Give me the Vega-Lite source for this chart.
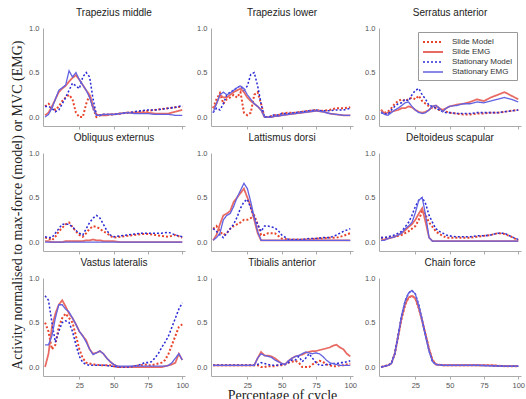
{
"$schema": "https://vega.github.io/schema/vega-lite/v6.json",
"padding": {"left": 10, "top": 8, "right": 5, "bottom": 0},
"title": {"text": "Activity normalised to max-force (model) or MVC (EMG)", "orient": "left", "anchor": "middle", "font": "Liberation Serif", "fontSize": 14, "fontWeight": "normal", "color": "#222", "offset": 4},
"data": {"values": [
{"p":1,"x":0,"sm":0.12,"se":0.02,"tm":0.12,"te":0},
{"p":1,"x":2.5,"sm":0.15,"se":0.05,"tm":0.12,"te":0.03},
{"p":1,"x":5,"sm":0.12,"se":0.12,"tm":0.1,"te":0.1},
{"p":1,"x":7.5,"sm":0.08,"se":0.2,"tm":0.06,"te":0.2},
{"p":1,"x":10,"sm":0.12,"se":0.28,"tm":0.08,"te":0.3},
{"p":1,"x":12.5,"sm":0.18,"se":0.32,"tm":0.15,"te":0.33},
{"p":1,"x":15,"sm":0.22,"se":0.35,"tm":0.22,"te":0.36},
{"p":1,"x":17.5,"sm":0.25,"se":0.4,"tm":0.3,"te":0.52},
{"p":1,"x":20,"sm":0.2,"se":0.44,"tm":0.38,"te":0.45},
{"p":1,"x":22.5,"sm":0.05,"se":0.47,"tm":0.35,"te":0.5},
{"p":1,"x":25,"sm":0,"se":0.42,"tm":0.32,"te":0.42},
{"p":1,"x":27.5,"sm":0,"se":0.36,"tm":0.45,"te":0.36},
{"p":1,"x":30,"sm":0.15,"se":0.3,"tm":0.5,"te":0.3},
{"p":1,"x":32.5,"sm":0.25,"se":0.25,"tm":0.45,"te":0.22},
{"p":1,"x":35,"sm":0.1,"se":0.12,"tm":0.2,"te":0.1},
{"p":1,"x":37.5,"sm":0,"se":0.03,"tm":0.02,"te":0.02},
{"p":1,"x":40,"sm":0.02,"se":0.02,"tm":0.02,"te":0.02},
{"p":1,"x":42.5,"sm":0.03,"se":0.02,"tm":0.03,"te":0.03},
{"p":1,"x":45,"sm":0.03,"se":0.02,"tm":0.03,"te":0.03},
{"p":1,"x":47.5,"sm":0.03,"se":0.03,"tm":0.03,"te":0.03},
{"p":1,"x":50,"sm":0.03,"se":0.03,"tm":0.03,"te":0.03},
{"p":1,"x":55,"sm":0.04,"se":0.04,"tm":0.04,"te":0.04},
{"p":1,"x":60,"sm":0.05,"se":0.05,"tm":0.05,"te":0.05},
{"p":1,"x":65,"sm":0.05,"se":0.05,"tm":0.06,"te":0.04},
{"p":1,"x":70,"sm":0.06,"se":0.05,"tm":0.07,"te":0.04},
{"p":1,"x":75,"sm":0.07,"se":0.05,"tm":0.08,"te":0.04},
{"p":1,"x":80,"sm":0.08,"se":0.04,"tm":0.08,"te":0.03},
{"p":1,"x":85,"sm":0.09,"se":0.04,"tm":0.09,"te":0.03},
{"p":1,"x":90,"sm":0.1,"se":0.04,"tm":0.1,"te":0.03},
{"p":1,"x":95,"sm":0.11,"se":0.06,"tm":0.11,"te":0.02},
{"p":1,"x":100,"sm":0.12,"se":0.08,"tm":0.13,"te":0.02},
{"p":2,"x":0,"sm":0.1,"se":0.1,"tm":0.05,"te":0.05},
{"p":2,"x":2.5,"sm":0.2,"se":0.15,"tm":0.1,"te":0.15},
{"p":2,"x":5,"sm":0.27,"se":0.25,"tm":0.08,"te":0.25},
{"p":2,"x":7.5,"sm":0.15,"se":0.22,"tm":0.15,"te":0.28},
{"p":2,"x":10,"sm":0.2,"se":0.22,"tm":0.25,"te":0.25},
{"p":2,"x":12.5,"sm":0.22,"se":0.25,"tm":0.28,"te":0.27},
{"p":2,"x":15,"sm":0.25,"se":0.28,"tm":0.3,"te":0.3},
{"p":2,"x":17.5,"sm":0.22,"se":0.3,"tm":0.33,"te":0.33},
{"p":2,"x":20,"sm":0.28,"se":0.32,"tm":0.35,"te":0.35},
{"p":2,"x":22.5,"sm":0.05,"se":0.28,"tm":0.3,"te":0.32},
{"p":2,"x":25,"sm":0.02,"se":0.22,"tm":0.35,"te":0.25},
{"p":2,"x":27.5,"sm":0.05,"se":0.18,"tm":0.48,"te":0.2},
{"p":2,"x":30,"sm":0.25,"se":0.15,"tm":0.5,"te":0.15},
{"p":2,"x":32.5,"sm":0.28,"se":0.12,"tm":0.35,"te":0.12},
{"p":2,"x":35,"sm":0.15,"se":0.08,"tm":0.15,"te":0.08},
{"p":2,"x":37.5,"sm":0,"se":0,"tm":0,"te":0},
{"p":2,"x":40,"sm":0,"se":0,"tm":0,"te":0},
{"p":2,"x":42.5,"sm":0.01,"se":0,"tm":0.01,"te":0},
{"p":2,"x":45,"sm":0.02,"se":0.01,"tm":0.03,"te":0.01},
{"p":2,"x":47.5,"sm":0.02,"se":0.01,"tm":0.02,"te":0.01},
{"p":2,"x":50,"sm":0.04,"se":0.02,"tm":0.04,"te":0.02},
{"p":2,"x":55,"sm":0.05,"se":0.03,"tm":0.04,"te":0.03},
{"p":2,"x":60,"sm":0.05,"se":0.04,"tm":0.05,"te":0.04},
{"p":2,"x":65,"sm":0.06,"se":0.05,"tm":0.06,"te":0.05},
{"p":2,"x":70,"sm":0.07,"se":0.06,"tm":0.07,"te":0.06},
{"p":2,"x":75,"sm":0.08,"se":0.07,"tm":0.08,"te":0.07},
{"p":2,"x":80,"sm":0.07,"se":0.06,"tm":0.07,"te":0.06},
{"p":2,"x":85,"sm":0.08,"se":0.04,"tm":0.07,"te":0.04},
{"p":2,"x":90,"sm":0.1,"se":0.03,"tm":0.08,"te":0.03},
{"p":2,"x":95,"sm":0.1,"se":0.02,"tm":0.08,"te":0.02},
{"p":2,"x":100,"sm":0.11,"se":0.02,"tm":0.1,"te":0.02},
{"p":3,"x":0,"sm":0.08,"se":0.08,"tm":0.05,"te":0.06},
{"p":3,"x":2.5,"sm":0.05,"se":0.04,"tm":0.04,"te":0.03},
{"p":3,"x":5,"sm":0.06,"se":0.05,"tm":0.03,"te":0.02},
{"p":3,"x":7.5,"sm":0.1,"se":0.06,"tm":0.08,"te":0.05},
{"p":3,"x":10,"sm":0.15,"se":0.07,"tm":0.12,"te":0.08},
{"p":3,"x":12.5,"sm":0.18,"se":0.08,"tm":0.15,"te":0.1},
{"p":3,"x":15,"sm":0.2,"se":0.1,"tm":0.16,"te":0.13},
{"p":3,"x":17.5,"sm":0.18,"se":0.1,"tm":0.2,"te":0.16},
{"p":3,"x":20,"sm":0.2,"se":0.12,"tm":0.18,"te":0.17},
{"p":3,"x":22.5,"sm":0.22,"se":0.11,"tm":0.25,"te":0.12},
{"p":3,"x":25,"sm":0.2,"se":0.08,"tm":0.3,"te":0.08},
{"p":3,"x":27.5,"sm":0.24,"se":0.06,"tm":0.32,"te":0.05},
{"p":3,"x":30,"sm":0.18,"se":0.05,"tm":0.25,"te":0.04},
{"p":3,"x":32.5,"sm":0.15,"se":0.06,"tm":0.2,"te":0.05},
{"p":3,"x":35,"sm":0.12,"se":0.08,"tm":0.13,"te":0.08},
{"p":3,"x":37.5,"sm":0.1,"se":0.12,"tm":0.12,"te":0.12},
{"p":3,"x":40,"sm":0.1,"se":0.13,"tm":0.1,"te":0.13},
{"p":3,"x":42.5,"sm":0.08,"se":0.1,"tm":0.08,"te":0.1},
{"p":3,"x":45,"sm":0.07,"se":0.08,"tm":0.06,"te":0.06},
{"p":3,"x":47.5,"sm":0.06,"se":0.1,"tm":0.05,"te":0.1},
{"p":3,"x":50,"sm":0.05,"se":0.12,"tm":0.05,"te":0.12},
{"p":3,"x":55,"sm":0.04,"se":0.14,"tm":0.04,"te":0.13},
{"p":3,"x":60,"sm":0.03,"se":0.15,"tm":0.04,"te":0.15},
{"p":3,"x":65,"sm":0.03,"se":0.17,"tm":0.04,"te":0.15},
{"p":3,"x":70,"sm":0.04,"se":0.2,"tm":0.05,"te":0.17},
{"p":3,"x":75,"sm":0.04,"se":0.18,"tm":0.05,"te":0.16},
{"p":3,"x":80,"sm":0.05,"se":0.22,"tm":0.05,"te":0.18},
{"p":3,"x":85,"sm":0.05,"se":0.25,"tm":0.05,"te":0.2},
{"p":3,"x":90,"sm":0.06,"se":0.28,"tm":0.06,"te":0.22},
{"p":3,"x":95,"sm":0.07,"se":0.24,"tm":0.07,"te":0.2},
{"p":3,"x":100,"sm":0.08,"se":0.2,"tm":0.08,"te":0.17},
{"p":4,"x":0,"sm":0.05,"se":0.01,"tm":0.06,"te":0},
{"p":4,"x":2.5,"sm":0.04,"se":0.01,"tm":0.05,"te":0},
{"p":4,"x":5,"sm":0.02,"se":0,"tm":0.05,"te":0},
{"p":4,"x":7.5,"sm":0.06,"se":0,"tm":0.1,"te":0},
{"p":4,"x":10,"sm":0.12,"se":0,"tm":0.15,"te":0},
{"p":4,"x":12.5,"sm":0.16,"se":0,"tm":0.2,"te":0},
{"p":4,"x":15,"sm":0.2,"se":0.01,"tm":0.2,"te":0},
{"p":4,"x":17.5,"sm":0.22,"se":0.01,"tm":0.2,"te":0},
{"p":4,"x":20,"sm":0.17,"se":0.01,"tm":0.17,"te":0},
{"p":4,"x":22.5,"sm":0.12,"se":0.01,"tm":0.13,"te":0},
{"p":4,"x":25,"sm":0.08,"se":0.01,"tm":0.1,"te":0},
{"p":4,"x":27.5,"sm":0.06,"se":0.01,"tm":0.08,"te":0},
{"p":4,"x":30,"sm":0.1,"se":0.02,"tm":0.15,"te":0},
{"p":4,"x":32.5,"sm":0.15,"se":0.02,"tm":0.22,"te":0},
{"p":4,"x":35,"sm":0.18,"se":0.03,"tm":0.27,"te":0},
{"p":4,"x":37.5,"sm":0.17,"se":0.02,"tm":0.3,"te":0},
{"p":4,"x":40,"sm":0.15,"se":0.02,"tm":0.27,"te":0},
{"p":4,"x":42.5,"sm":0.12,"se":0.01,"tm":0.2,"te":0},
{"p":4,"x":45,"sm":0.1,"se":0.01,"tm":0.13,"te":0},
{"p":4,"x":47.5,"sm":0.07,"se":0.01,"tm":0.08,"te":0},
{"p":4,"x":50,"sm":0.05,"se":0.01,"tm":0.06,"te":0},
{"p":4,"x":55,"sm":0.06,"se":0,"tm":0.07,"te":0},
{"p":4,"x":60,"sm":0.07,"se":0,"tm":0.08,"te":0},
{"p":4,"x":65,"sm":0.08,"se":0,"tm":0.09,"te":0},
{"p":4,"x":70,"sm":0.09,"se":0,"tm":0.1,"te":0},
{"p":4,"x":75,"sm":0.09,"se":0,"tm":0.1,"te":0},
{"p":4,"x":80,"sm":0.08,"se":0,"tm":0.1,"te":0},
{"p":4,"x":85,"sm":0.07,"se":0,"tm":0.1,"te":0},
{"p":4,"x":90,"sm":0.06,"se":0,"tm":0.11,"te":0},
{"p":4,"x":95,"sm":0.08,"se":0,"tm":0.08,"te":0},
{"p":4,"x":100,"sm":0.05,"se":0,"tm":0.06,"te":0},
{"p":5,"x":0,"sm":0.15,"se":0.02,"tm":0.15,"te":0.02},
{"p":5,"x":2.5,"sm":0.18,"se":0.08,"tm":0.12,"te":0.05},
{"p":5,"x":5,"sm":0.12,"se":0.2,"tm":0.08,"te":0.1},
{"p":5,"x":7.5,"sm":0.08,"se":0.3,"tm":0.05,"te":0.25},
{"p":5,"x":10,"sm":0.1,"se":0.32,"tm":0.1,"te":0.3},
{"p":5,"x":12.5,"sm":0.15,"se":0.35,"tm":0.15,"te":0.32},
{"p":5,"x":15,"sm":0.18,"se":0.45,"tm":0.2,"te":0.4},
{"p":5,"x":17.5,"sm":0.2,"se":0.5,"tm":0.28,"te":0.5},
{"p":5,"x":20,"sm":0.22,"se":0.55,"tm":0.38,"te":0.58},
{"p":5,"x":22.5,"sm":0.25,"se":0.6,"tm":0.45,"te":0.66},
{"p":5,"x":25,"sm":0.25,"se":0.5,"tm":0.48,"te":0.6},
{"p":5,"x":27.5,"sm":0.27,"se":0.4,"tm":0.38,"te":0.45},
{"p":5,"x":30,"sm":0.3,"se":0.25,"tm":0.28,"te":0.28},
{"p":5,"x":32.5,"sm":0.2,"se":0.1,"tm":0.2,"te":0.12},
{"p":5,"x":35,"sm":0.08,"se":0.02,"tm":0.12,"te":0.02},
{"p":5,"x":37.5,"sm":0.08,"se":0.02,"tm":0.18,"te":0.02},
{"p":5,"x":40,"sm":0.1,"se":0.02,"tm":0.18,"te":0.02},
{"p":5,"x":42.5,"sm":0.1,"se":0.02,"tm":0.17,"te":0.02},
{"p":5,"x":45,"sm":0.1,"se":0.02,"tm":0.16,"te":0.02},
{"p":5,"x":47.5,"sm":0.07,"se":0.02,"tm":0.13,"te":0.02},
{"p":5,"x":50,"sm":0.04,"se":0.02,"tm":0.08,"te":0.02},
{"p":5,"x":55,"sm":0.03,"se":0.02,"tm":0.03,"te":0.02},
{"p":5,"x":60,"sm":0.03,"se":0.02,"tm":0.03,"te":0.02},
{"p":5,"x":65,"sm":0.03,"se":0.02,"tm":0.03,"te":0.02},
{"p":5,"x":70,"sm":0.03,"se":0.02,"tm":0.04,"te":0.02},
{"p":5,"x":75,"sm":0.04,"se":0.02,"tm":0.04,"te":0.02},
{"p":5,"x":80,"sm":0.04,"se":0.02,"tm":0.05,"te":0.02},
{"p":5,"x":85,"sm":0.05,"se":0.02,"tm":0.05,"te":0.02},
{"p":5,"x":90,"sm":0.05,"se":0.02,"tm":0.08,"te":0.02},
{"p":5,"x":95,"sm":0.07,"se":0.02,"tm":0.12,"te":0.02},
{"p":5,"x":100,"sm":0.1,"se":0.02,"tm":0.15,"te":0.02},
{"p":6,"x":0,"sm":0.05,"se":0.02,"tm":0.05,"te":0.02},
{"p":6,"x":2.5,"sm":0.05,"se":0.03,"tm":0.05,"te":0.02},
{"p":6,"x":5,"sm":0.05,"se":0.04,"tm":0.06,"te":0.04},
{"p":6,"x":7.5,"sm":0.06,"se":0.05,"tm":0.07,"te":0.05},
{"p":6,"x":10,"sm":0.06,"se":0.06,"tm":0.08,"te":0.06},
{"p":6,"x":12.5,"sm":0.07,"se":0.08,"tm":0.1,"te":0.08},
{"p":6,"x":15,"sm":0.08,"se":0.1,"tm":0.12,"te":0.1},
{"p":6,"x":17.5,"sm":0.1,"se":0.13,"tm":0.17,"te":0.15},
{"p":6,"x":20,"sm":0.12,"se":0.17,"tm":0.22,"te":0.18},
{"p":6,"x":22.5,"sm":0.15,"se":0.2,"tm":0.3,"te":0.22},
{"p":6,"x":25,"sm":0.18,"se":0.25,"tm":0.4,"te":0.33},
{"p":6,"x":27.5,"sm":0.25,"se":0.32,"tm":0.47,"te":0.47},
{"p":6,"x":30,"sm":0.35,"se":0.38,"tm":0.5,"te":0.5},
{"p":6,"x":32.5,"sm":0.3,"se":0.22,"tm":0.43,"te":0.3},
{"p":6,"x":35,"sm":0.22,"se":0.05,"tm":0.3,"te":0.05},
{"p":6,"x":37.5,"sm":0.17,"se":0.01,"tm":0.22,"te":0.01},
{"p":6,"x":40,"sm":0.12,"se":0.01,"tm":0.15,"te":0.01},
{"p":6,"x":42.5,"sm":0.09,"se":0.01,"tm":0.12,"te":0.01},
{"p":6,"x":45,"sm":0.07,"se":0.01,"tm":0.1,"te":0.01},
{"p":6,"x":47.5,"sm":0.05,"se":0.01,"tm":0.08,"te":0.01},
{"p":6,"x":50,"sm":0.05,"se":0.01,"tm":0.07,"te":0.01},
{"p":6,"x":55,"sm":0.05,"se":0.01,"tm":0.06,"te":0.01},
{"p":6,"x":60,"sm":0.05,"se":0.01,"tm":0.06,"te":0.01},
{"p":6,"x":65,"sm":0.05,"se":0.01,"tm":0.06,"te":0.01},
{"p":6,"x":70,"sm":0.06,"se":0.01,"tm":0.07,"te":0.01},
{"p":6,"x":75,"sm":0.07,"se":0.01,"tm":0.07,"te":0.01},
{"p":6,"x":80,"sm":0.08,"se":0.01,"tm":0.08,"te":0.01},
{"p":6,"x":85,"sm":0.1,"se":0.01,"tm":0.1,"te":0.01},
{"p":6,"x":90,"sm":0.09,"se":0.01,"tm":0.1,"te":0.01},
{"p":6,"x":95,"sm":0.06,"se":0.01,"tm":0.06,"te":0.01},
{"p":6,"x":100,"sm":0.02,"se":0.01,"tm":0.03,"te":0.01},
{"p":7,"x":0,"sm":0.5,"se":0,"tm":0.8,"te":0.25},
{"p":7,"x":2.5,"sm":0.4,"se":0.15,"tm":0.75,"te":0.25},
{"p":7,"x":5,"sm":0.2,"se":0.45,"tm":0.5,"te":0.35},
{"p":7,"x":7.5,"sm":0.25,"se":0.6,"tm":0.28,"te":0.55},
{"p":7,"x":10,"sm":0.45,"se":0.7,"tm":0.4,"te":0.7},
{"p":7,"x":12.5,"sm":0.55,"se":0.75,"tm":0.5,"te":0.7},
{"p":7,"x":15,"sm":0.6,"se":0.68,"tm":0.52,"te":0.65},
{"p":7,"x":17.5,"sm":0.55,"se":0.6,"tm":0.5,"te":0.62},
{"p":7,"x":20,"sm":0.5,"se":0.55,"tm":0.4,"te":0.55},
{"p":7,"x":22.5,"sm":0.35,"se":0.48,"tm":0.25,"te":0.48},
{"p":7,"x":25,"sm":0.2,"se":0.4,"tm":0.12,"te":0.4},
{"p":7,"x":27.5,"sm":0.1,"se":0.35,"tm":0.05,"te":0.35},
{"p":7,"x":30,"sm":0.05,"se":0.3,"tm":0.03,"te":0.28},
{"p":7,"x":32.5,"sm":0.04,"se":0.2,"tm":0.02,"te":0.2},
{"p":7,"x":35,"sm":0.03,"se":0.15,"tm":0.02,"te":0.14},
{"p":7,"x":37.5,"sm":0.03,"se":0.16,"tm":0.02,"te":0.16},
{"p":7,"x":40,"sm":0.02,"se":0.18,"tm":0.02,"te":0.18},
{"p":7,"x":42.5,"sm":0.02,"se":0.15,"tm":0.02,"te":0.15},
{"p":7,"x":45,"sm":0.02,"se":0.1,"tm":0.02,"te":0.1},
{"p":7,"x":47.5,"sm":0.02,"se":0.06,"tm":0.01,"te":0.06},
{"p":7,"x":50,"sm":0.01,"se":0.03,"tm":0.01,"te":0.03},
{"p":7,"x":52.5,"sm":0,"se":0.01,"tm":0,"te":0.01},
{"p":7,"x":55,"sm":0,"se":0,"tm":0,"te":0.01},
{"p":7,"x":60,"sm":0,"se":0,"tm":0,"te":0.01},
{"p":7,"x":65,"sm":0.01,"se":0,"tm":0.01,"te":0.01},
{"p":7,"x":70,"sm":0.02,"se":0,"tm":0.03,"te":0.01},
{"p":7,"x":72.5,"sm":0.03,"se":0,"tm":0.05,"te":0.01},
{"p":7,"x":75,"sm":0.02,"se":0,"tm":0.05,"te":0.01},
{"p":7,"x":77.5,"sm":0.02,"se":0,"tm":0.06,"te":0.01},
{"p":7,"x":80,"sm":0.03,"se":0,"tm":0.1,"te":0.01},
{"p":7,"x":82.5,"sm":0.04,"se":0,"tm":0.15,"te":0.01},
{"p":7,"x":85,"sm":0.05,"se":0,"tm":0.22,"te":0.01},
{"p":7,"x":87.5,"sm":0.08,"se":0.01,"tm":0.28,"te":0.01},
{"p":7,"x":90,"sm":0.15,"se":0.02,"tm":0.35,"te":0.02},
{"p":7,"x":92.5,"sm":0.25,"se":0.03,"tm":0.45,"te":0.05},
{"p":7,"x":95,"sm":0.35,"se":0.05,"tm":0.55,"te":0.1},
{"p":7,"x":97.5,"sm":0.45,"se":0.15,"tm":0.65,"te":0.15},
{"p":7,"x":100,"sm":0.48,"se":0.08,"tm":0.72,"te":0.08},
{"p":8,"x":0,"sm":0.02,"se":0.02,"tm":0.02,"te":0.02},
{"p":8,"x":5,"sm":0.02,"se":0.02,"tm":0.02,"te":0.02},
{"p":8,"x":10,"sm":0.02,"se":0.02,"tm":0.02,"te":0.02},
{"p":8,"x":15,"sm":0.02,"se":0.02,"tm":0.02,"te":0.02},
{"p":8,"x":20,"sm":0.02,"se":0.02,"tm":0.02,"te":0.02},
{"p":8,"x":25,"sm":0.02,"se":0.02,"tm":0.02,"te":0.02},
{"p":8,"x":30,"sm":0.02,"se":0.02,"tm":0.02,"te":0.02},
{"p":8,"x":32.5,"sm":0.02,"se":0.1,"tm":0.03,"te":0.1},
{"p":8,"x":35,"sm":0,"se":0.17,"tm":0.05,"te":0.15},
{"p":8,"x":37.5,"sm":0,"se":0.13,"tm":0.04,"te":0.13},
{"p":8,"x":40,"sm":0.01,"se":0.13,"tm":0.03,"te":0.12},
{"p":8,"x":42.5,"sm":0.01,"se":0.12,"tm":0.02,"te":0.11},
{"p":8,"x":45,"sm":0.01,"se":0.1,"tm":0.02,"te":0.08},
{"p":8,"x":47.5,"sm":0.02,"se":0.07,"tm":0.02,"te":0.06},
{"p":8,"x":50,"sm":0.02,"se":0.04,"tm":0.03,"te":0.04},
{"p":8,"x":52.5,"sm":0.03,"se":0.03,"tm":0.03,"te":0.03},
{"p":8,"x":55,"sm":0.05,"se":0.07,"tm":0.05,"te":0.07},
{"p":8,"x":57.5,"sm":0.06,"se":0.1,"tm":0.08,"te":0.1},
{"p":8,"x":60,"sm":0.07,"se":0.12,"tm":0.08,"te":0.12},
{"p":8,"x":62.5,"sm":0.05,"se":0.13,"tm":0.12,"te":0.13},
{"p":8,"x":65,"sm":0,"se":0.14,"tm":0.06,"te":0.15},
{"p":8,"x":67.5,"sm":0,"se":0.16,"tm":0.1,"te":0.17},
{"p":8,"x":70,"sm":0,"se":0.17,"tm":0.15,"te":0.16},
{"p":8,"x":72.5,"sm":0.03,"se":0.18,"tm":0.1,"te":0.15},
{"p":8,"x":75,"sm":0.05,"se":0.18,"tm":0.05,"te":0.16},
{"p":8,"x":77.5,"sm":0.07,"se":0.19,"tm":0.02,"te":0.15},
{"p":8,"x":80,"sm":0.06,"se":0.2,"tm":0.02,"te":0.12},
{"p":8,"x":82.5,"sm":0.03,"se":0.21,"tm":0.03,"te":0.08},
{"p":8,"x":85,"sm":0.02,"se":0.22,"tm":0.03,"te":0.05},
{"p":8,"x":87.5,"sm":0.01,"se":0.24,"tm":0.04,"te":0.04},
{"p":8,"x":90,"sm":0.01,"se":0.25,"tm":0.04,"te":0.03},
{"p":8,"x":92.5,"sm":0.02,"se":0.22,"tm":0.05,"te":0.02},
{"p":8,"x":95,"sm":0.02,"se":0.2,"tm":0.05,"te":0.02},
{"p":8,"x":97.5,"sm":0.03,"se":0.15,"tm":0.06,"te":0.02},
{"p":8,"x":100,"sm":0.04,"se":0.12,"tm":0.07,"te":0.02},
{"p":9,"x":0,"sm":0,"se":0,"tm":0,"te":0},
{"p":9,"x":2.5,"sm":0.01,"se":0.01,"tm":0.01,"te":0.01},
{"p":9,"x":5,"sm":0.02,"se":0.02,"tm":0.02,"te":0.02},
{"p":9,"x":7.5,"sm":0.04,"se":0.04,"tm":0.04,"te":0.04},
{"p":9,"x":10,"sm":0.15,"se":0.15,"tm":0.15,"te":0.15},
{"p":9,"x":12.5,"sm":0.35,"se":0.35,"tm":0.36,"te":0.36},
{"p":9,"x":15,"sm":0.55,"se":0.55,"tm":0.58,"te":0.58},
{"p":9,"x":17.5,"sm":0.7,"se":0.7,"tm":0.74,"te":0.74},
{"p":9,"x":20,"sm":0.78,"se":0.78,"tm":0.83,"te":0.83},
{"p":9,"x":22.5,"sm":0.8,"se":0.8,"tm":0.86,"te":0.86},
{"p":9,"x":25,"sm":0.77,"se":0.77,"tm":0.82,"te":0.82},
{"p":9,"x":27.5,"sm":0.66,"se":0.66,"tm":0.7,"te":0.68},
{"p":9,"x":30,"sm":0.52,"se":0.52,"tm":0.53,"te":0.52},
{"p":9,"x":32.5,"sm":0.36,"se":0.36,"tm":0.35,"te":0.34},
{"p":9,"x":35,"sm":0.2,"se":0.2,"tm":0.18,"te":0.18},
{"p":9,"x":37.5,"sm":0.08,"se":0.08,"tm":0.06,"te":0.06},
{"p":9,"x":40,"sm":0.03,"se":0.03,"tm":0.03,"te":0.03},
{"p":9,"x":45,"sm":0.02,"se":0.02,"tm":0.02,"te":0.02},
{"p":9,"x":50,"sm":0.02,"se":0.02,"tm":0.02,"te":0.02},
{"p":9,"x":60,"sm":0.02,"se":0.02,"tm":0.02,"te":0.02},
{"p":9,"x":70,"sm":0.02,"se":0.02,"tm":0.02,"te":0.02},
{"p":9,"x":80,"sm":0.02,"se":0.02,"tm":0.015,"te":0.015},
{"p":9,"x":90,"sm":0.01,"se":0.01,"tm":0.01,"te":0.01},
{"p":9,"x":100,"sm":0.01,"se":0.01,"tm":0.01,"te":0.01}
]},
"columns": 3,
"spacing": {"row": 27, "column": 26},
"bounds": "flush",
"resolve": {"legend": {"color": "independent", "strokeDash": "independent", "strokeWidth": "independent"}},
"concat": [
{"title": "Trapezius middle", "width": 142, "height": 98,
 "transform": [{"filter": "datum.p == 1"}, {"fold": ["sm", "se", "tm", "te"], "as": ["s", "v"]}],
 "mark": {"type": "line"},
 "encoding": {
  "x": {"field": "x", "type": "quantitative", "scale": {"domain": [-1.5, 102]}, "axis": {"values": [25, 50, 75, 100], "labels": false, "title": null}},
  "y": {"field": "v", "type": "quantitative", "scale": {"domain": [-0.1, 1]}, "axis": {"values": [0, 0.5, 1], "format": ".1f", "title": null}},
  "color": {"field": "s", "type": "nominal", "scale": {"domain": ["sm", "se", "tm", "te"], "range": ["#e8452c", "#e86a62", "#2b2bd6", "#6262e2"]}, "legend": null},
  "strokeDash": {"field": "s", "type": "nominal", "scale": {"domain": ["sm", "se", "tm", "te"], "range": [[2, 2], [1, 0], [2, 2], [1, 0]]}, "legend": null},
  "strokeWidth": {"field": "s", "type": "nominal", "scale": {"domain": ["sm", "se", "tm", "te"], "range": [2, 1.3, 2, 1.3]}, "legend": null}
 }},
{"title": "Trapezius lower", "width": 142, "height": 98,
 "transform": [{"filter": "datum.p == 2"}, {"fold": ["sm", "se", "tm", "te"], "as": ["s", "v"]}],
 "mark": {"type": "line"},
 "encoding": {
  "x": {"field": "x", "type": "quantitative", "scale": {"domain": [-1.5, 102]}, "axis": {"values": [25, 50, 75, 100], "labels": false, "title": null}},
  "y": {"field": "v", "type": "quantitative", "scale": {"domain": [-0.1, 1]}, "axis": {"values": [0, 0.5, 1], "format": ".1f", "title": null}},
  "color": {"field": "s", "type": "nominal", "scale": {"domain": ["sm", "se", "tm", "te"], "range": ["#e8452c", "#e86a62", "#2b2bd6", "#6262e2"]}, "legend": null},
  "strokeDash": {"field": "s", "type": "nominal", "scale": {"domain": ["sm", "se", "tm", "te"], "range": [[2, 2], [1, 0], [2, 2], [1, 0]]}, "legend": null},
  "strokeWidth": {"field": "s", "type": "nominal", "scale": {"domain": ["sm", "se", "tm", "te"], "range": [2, 1.3, 2, 1.3]}, "legend": null}
 }},
{"title": "Serratus anterior", "width": 142, "height": 98,
 "transform": [{"filter": "datum.p == 3"}, {"fold": ["sm", "se", "tm", "te"], "as": ["s", "v"]}],
 "mark": {"type": "line"},
 "encoding": {
  "x": {"field": "x", "type": "quantitative", "scale": {"domain": [-1.5, 102]}, "axis": {"values": [25, 50, 75, 100], "labels": false, "title": null}},
  "y": {"field": "v", "type": "quantitative", "scale": {"domain": [-0.1, 1]}, "axis": {"values": [0, 0.5, 1], "format": ".1f", "title": null}},
  "color": {"field": "s", "type": "nominal", "scale": {"domain": ["sm", "se", "tm", "te"], "range": ["#e8452c", "#e86a62", "#2b2bd6", "#6262e2"]}, "legend": {"title": null, "labelExpr": "{'sm':'Slide Model','se':'Slide EMG','tm':'Stationary Model','te':'Stationary EMG'}[datum.label]"}},
  "strokeDash": {"field": "s", "type": "nominal", "scale": {"domain": ["sm", "se", "tm", "te"], "range": [[2, 2], [1, 0], [2, 2], [1, 0]]}, "legend": {"title": null, "labelExpr": "{'sm':'Slide Model','se':'Slide EMG','tm':'Stationary Model','te':'Stationary EMG'}[datum.label]"}},
  "strokeWidth": {"field": "s", "type": "nominal", "scale": {"domain": ["sm", "se", "tm", "te"], "range": [2, 1.3, 2, 1.3]}, "legend": null}
 }},
{"title": "Obliquus externus", "width": 142, "height": 98,
 "transform": [{"filter": "datum.p == 4"}, {"fold": ["sm", "se", "tm", "te"], "as": ["s", "v"]}],
 "mark": {"type": "line"},
 "encoding": {
  "x": {"field": "x", "type": "quantitative", "scale": {"domain": [-1.5, 102]}, "axis": {"values": [25, 50, 75, 100], "labels": false, "title": null}},
  "y": {"field": "v", "type": "quantitative", "scale": {"domain": [-0.1, 1]}, "axis": {"values": [0, 0.5, 1], "format": ".1f", "title": null}},
  "color": {"field": "s", "type": "nominal", "scale": {"domain": ["sm", "se", "tm", "te"], "range": ["#e8452c", "#e86a62", "#2b2bd6", "#6262e2"]}, "legend": null},
  "strokeDash": {"field": "s", "type": "nominal", "scale": {"domain": ["sm", "se", "tm", "te"], "range": [[2, 2], [1, 0], [2, 2], [1, 0]]}, "legend": null},
  "strokeWidth": {"field": "s", "type": "nominal", "scale": {"domain": ["sm", "se", "tm", "te"], "range": [2, 1.3, 2, 1.3]}, "legend": null}
 }},
{"title": "Lattismus dorsi", "width": 142, "height": 98,
 "transform": [{"filter": "datum.p == 5"}, {"fold": ["sm", "se", "tm", "te"], "as": ["s", "v"]}],
 "mark": {"type": "line"},
 "encoding": {
  "x": {"field": "x", "type": "quantitative", "scale": {"domain": [-1.5, 102]}, "axis": {"values": [25, 50, 75, 100], "labels": false, "title": null}},
  "y": {"field": "v", "type": "quantitative", "scale": {"domain": [-0.1, 1]}, "axis": {"values": [0, 0.5, 1], "format": ".1f", "title": null}},
  "color": {"field": "s", "type": "nominal", "scale": {"domain": ["sm", "se", "tm", "te"], "range": ["#e8452c", "#e86a62", "#2b2bd6", "#6262e2"]}, "legend": null},
  "strokeDash": {"field": "s", "type": "nominal", "scale": {"domain": ["sm", "se", "tm", "te"], "range": [[2, 2], [1, 0], [2, 2], [1, 0]]}, "legend": null},
  "strokeWidth": {"field": "s", "type": "nominal", "scale": {"domain": ["sm", "se", "tm", "te"], "range": [2, 1.3, 2, 1.3]}, "legend": null}
 }},
{"title": "Deltoideus scapular", "width": 142, "height": 98,
 "transform": [{"filter": "datum.p == 6"}, {"fold": ["sm", "se", "tm", "te"], "as": ["s", "v"]}],
 "mark": {"type": "line"},
 "encoding": {
  "x": {"field": "x", "type": "quantitative", "scale": {"domain": [-1.5, 102]}, "axis": {"values": [25, 50, 75, 100], "labels": false, "title": null}},
  "y": {"field": "v", "type": "quantitative", "scale": {"domain": [-0.1, 1]}, "axis": {"values": [0, 0.5, 1], "format": ".1f", "title": null}},
  "color": {"field": "s", "type": "nominal", "scale": {"domain": ["sm", "se", "tm", "te"], "range": ["#e8452c", "#e86a62", "#2b2bd6", "#6262e2"]}, "legend": null},
  "strokeDash": {"field": "s", "type": "nominal", "scale": {"domain": ["sm", "se", "tm", "te"], "range": [[2, 2], [1, 0], [2, 2], [1, 0]]}, "legend": null},
  "strokeWidth": {"field": "s", "type": "nominal", "scale": {"domain": ["sm", "se", "tm", "te"], "range": [2, 1.3, 2, 1.3]}, "legend": null}
 }},
{"title": "Vastus lateralis", "width": 142, "height": 98,
 "transform": [{"filter": "datum.p == 7"}, {"fold": ["sm", "se", "tm", "te"], "as": ["s", "v"]}],
 "mark": {"type": "line"},
 "encoding": {
  "x": {"field": "x", "type": "quantitative", "scale": {"domain": [-1.5, 102]}, "axis": {"values": [25, 50, 75, 100], "title": null}},
  "y": {"field": "v", "type": "quantitative", "scale": {"domain": [-0.1, 1]}, "axis": {"values": [0, 0.5, 1], "format": ".1f", "title": null}},
  "color": {"field": "s", "type": "nominal", "scale": {"domain": ["sm", "se", "tm", "te"], "range": ["#e8452c", "#e86a62", "#2b2bd6", "#6262e2"]}, "legend": null},
  "strokeDash": {"field": "s", "type": "nominal", "scale": {"domain": ["sm", "se", "tm", "te"], "range": [[2, 2], [1, 0], [2, 2], [1, 0]]}, "legend": null},
  "strokeWidth": {"field": "s", "type": "nominal", "scale": {"domain": ["sm", "se", "tm", "te"], "range": [2, 1.3, 2, 1.3]}, "legend": null}
 }},
{"title": "Tibialis anterior", "width": 142, "height": 98,
 "transform": [{"filter": "datum.p == 8"}, {"fold": ["sm", "se", "tm", "te"], "as": ["s", "v"]}],
 "mark": {"type": "line"},
 "encoding": {
  "x": {"field": "x", "type": "quantitative", "scale": {"domain": [-1.5, 102]}, "axis": {"values": [25, 50, 75, 100], "title": "Percentage of cycle", "titleFont": "Liberation Serif", "titleFontSize": 14, "titleFontWeight": "normal", "titleColor": "#222", "titlePadding": 0}},
  "y": {"field": "v", "type": "quantitative", "scale": {"domain": [-0.1, 1]}, "axis": {"values": [0, 0.5, 1], "format": ".1f", "title": null}},
  "color": {"field": "s", "type": "nominal", "scale": {"domain": ["sm", "se", "tm", "te"], "range": ["#e8452c", "#e86a62", "#2b2bd6", "#6262e2"]}, "legend": null},
  "strokeDash": {"field": "s", "type": "nominal", "scale": {"domain": ["sm", "se", "tm", "te"], "range": [[2, 2], [1, 0], [2, 2], [1, 0]]}, "legend": null},
  "strokeWidth": {"field": "s", "type": "nominal", "scale": {"domain": ["sm", "se", "tm", "te"], "range": [2, 1.3, 2, 1.3]}, "legend": null}
 }},
{"title": "Chain force", "width": 142, "height": 98,
 "transform": [{"filter": "datum.p == 9"}, {"fold": ["sm", "se", "tm", "te"], "as": ["s", "v"]}],
 "mark": {"type": "line"},
 "encoding": {
  "x": {"field": "x", "type": "quantitative", "scale": {"domain": [-1.5, 102]}, "axis": {"values": [25, 50, 75, 100], "title": null}},
  "y": {"field": "v", "type": "quantitative", "scale": {"domain": [-0.1, 1]}, "axis": {"values": [0, 0.5, 1], "format": ".1f", "title": null}},
  "color": {"field": "s", "type": "nominal", "scale": {"domain": ["sm", "se", "tm", "te"], "range": ["#e8452c", "#e86a62", "#2b2bd6", "#6262e2"]}, "legend": null},
  "strokeDash": {"field": "s", "type": "nominal", "scale": {"domain": ["sm", "se", "tm", "te"], "range": [[2, 2], [1, 0], [2, 2], [1, 0]]}, "legend": null},
  "strokeWidth": {"field": "s", "type": "nominal", "scale": {"domain": ["sm", "se", "tm", "te"], "range": [2, 1.3, 2, 1.3]}, "legend": null}
 }}
],
"config": {
 "view": {"stroke": null},
 "font": "Liberation Sans",
 "axis": {"grid": false, "domainColor": "#aaa", "tickColor": "#aaa", "labelColor": "#555", "labelFontSize": 7.5, "tickSize": 3, "labelPadding": 2},
 "axisY": {"ticks": false, "labelPadding": 4},
 "title": {"fontSize": 10, "fontWeight": "normal", "color": "#222", "offset": 6},
 "legend": {"orient": "top-right", "offset": 4, "labelFontSize": 8, "labelColor": "#333", "symbolType": "M-1,0H3", "symbolSize": 100, "symbolStrokeWidth": 1.6, "symbolFillColor": "transparent", "strokeColor": "#999", "fillColor": "#ffffff", "padding": 4, "rowPadding": 0, "labelOffset": 18}
}
}
